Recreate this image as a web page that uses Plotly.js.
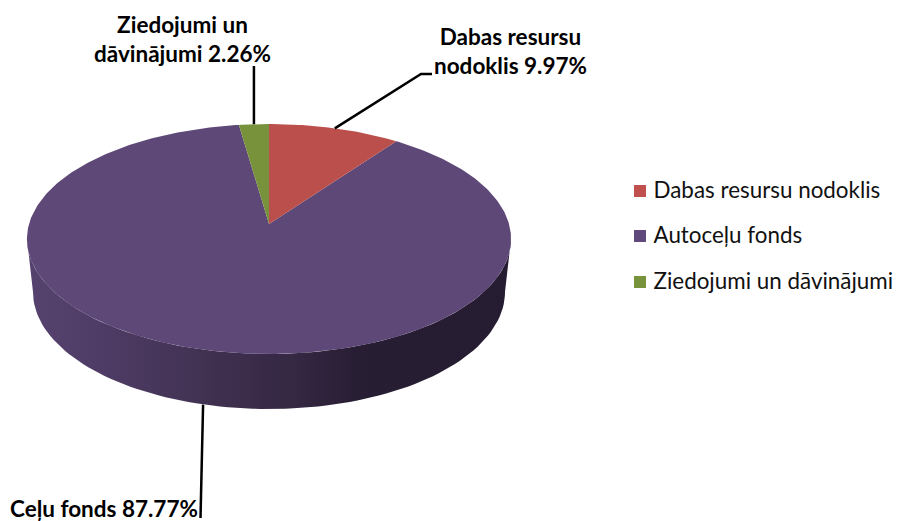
<!DOCTYPE html>
<html>
<head>
<meta charset="utf-8">
<script src="https://cdn.plot.ly/plotly-3.0.1.min.js"></script>
<style>html,body{margin:0;padding:0;background:#fff}</style>
</head>
<body>
<div id="chart" style="width:898px;height:521px"></div>
<script>
// Data
const legendNames = ["Dabas resursu nodoklis", "Autoceļu fonds", "Ziedojumi un dāvinājumi"];
const labelNames = ["Dabas resursu<br>nodoklis", "Ceļu fonds", "Ziedojumi un<br>dāvinājumi"];
const shares = [9.97, 87.77, 2.26];
const sliceColors = ["#BB4F4C", "#5E4877", "#78923C"];
const swatchColors = ["#C0504D", "#604A7B", "#77933C"];

// Projection of the tilted disc onto the page
const CX = 269, CY = 224, RX = 240, RY = 113.04, K = 0.1304;
function rim(pct) {
  const t = pct / 100 * 2 * Math.PI, u = Math.sin(t), v = Math.cos(t), d = 1 + K * v;
  return [CX + RX * u / d, CY - RY * v / d];
}
const total = shares.reduce((a, b) => a + b, 0);
const starts = []; let acc = 0;
shares.forEach(s => { starts.push(acc); acc += s / total * 100; });
const mid = i => starts[i] + shares[i] / total * 50;

function sliceTrace(i) {
  const xs = [CX], ys = [CY], n = Math.ceil(shares[i] * 4);
  for (let j = 0; j <= n; j++) {
    const p = rim(starts[i] + shares[i] / total * 100 * j / n);
    xs.push(p[0]); ys.push(p[1]);
  }
  xs.push(CX); ys.push(CY);
  return {x: xs, y: ys, type: "scatter", mode: "lines", fill: "toself", fillcolor: sliceColors[i],
          line: {width: 0}, hoverinfo: "skip", showlegend: false};
}

// Side wall: lower half of the top rim joined to the lower half of the base rim
const WX = 269, WY = 292, WRX = 236, WRY = 117;
function wallTrace() {
  const xs = [], ys = [];
  for (let a = 0; a <= 180; a += 2) {
    const r = a * Math.PI / 180;
    xs.push(269 + 242 * Math.cos(r)); ys.push(239 + 115 * Math.sin(r));
  }
  for (let a = 180; a >= 0; a -= 2) {
    const r = a * Math.PI / 180;
    xs.push(WX + WRX * Math.cos(r)); ys.push(WY + WRY * Math.sin(r));
  }
  xs.push(xs[0]); ys.push(ys[0]);
  return {x: xs, y: ys, type: "scatter", mode: "lines", fill: "toself", line: {width: 0},
    fillgradient: {type: "horizontal", colorscale: [
      [0, "#56426E"], [0.15, "#4F3C66"], [0.35, "#423253"], [0.55, "#352843"], [0.68, "#281E34"], [1, "#261C32"]]},
    hoverinfo: "skip", showlegend: false};
}

function leader(xs, ys) {
  return {x: xs, y: ys, type: "scatter", mode: "lines", line: {color: "#000", width: 2.5},
          hoverinfo: "skip", showlegend: false};
}
const pRed = rim(mid(0)), pGreen = rim(mid(2)), pPurple = rim(mid(1));

const legendY = [191, 236, 282];
const legendSwatches = {
  x: legendNames.map(() => 640), y: legendY, type: "scatter", mode: "markers",
  marker: {symbol: "square", size: 12, color: swatchColors},
  hoverinfo: "skip", showlegend: false
};
const legendLabels = {
  x: legendNames.map(() => 653.5), y: legendY.map(v => v + 1.5), text: legendNames,
  type: "scatter", mode: "text", textposition: "middle right",
  textfont: {family: "Lato, Carlito, Calibri, sans-serif", size: 22.4, color: "#111"},
  hoverinfo: "skip", showlegend: false
};

const traces = [
  wallTrace(), sliceTrace(1), sliceTrace(0), sliceTrace(2),
  leader([pRed[0], 421, 432], [pRed[1], 74, 74]),
  leader([pGreen[0], pGreen[0]], [pGreen[1], 66]),
  leader([pPurple[0], 200.5], [pPurple[1] + 55, 518]),
  legendSwatches, legendLabels
];

const labelFont = {family: "Lato, Carlito, Calibri, sans-serif", size: 22.5, color: "#000"};
const pct = i => shares[i].toFixed(2) + "%";
const annotations = [
  {x: 510.5, y: 51, xref: "x", yref: "y", showarrow: false, align: "center", font: labelFont,
   text: "<b>" + labelNames[0] + " " + pct(0) + "</b>"},
  {x: 182, y: 39, xref: "x", yref: "y", showarrow: false, align: "center", font: labelFont,
   text: "<b>" + labelNames[2] + " " + pct(2) + "</b>"},
  {x: 104, y: 508, xref: "x", yref: "y", showarrow: false, align: "center", font: labelFont,
   text: "<b>" + labelNames[1] + " " + pct(1) + "</b>"}
];

const layout = {
  width: 898, height: 521, margin: {l: 0, r: 0, t: 0, b: 0},
  paper_bgcolor: "#fff", plot_bgcolor: "#fff", showlegend: false,
  xaxis: {range: [0, 898], visible: false, fixedrange: true},
  yaxis: {range: [521, 0], visible: false, fixedrange: true},
  annotations
};
Plotly.newPlot("chart", traces, layout, {displayModeBar: false, staticPlot: true});
</script>
</body>
</html>
